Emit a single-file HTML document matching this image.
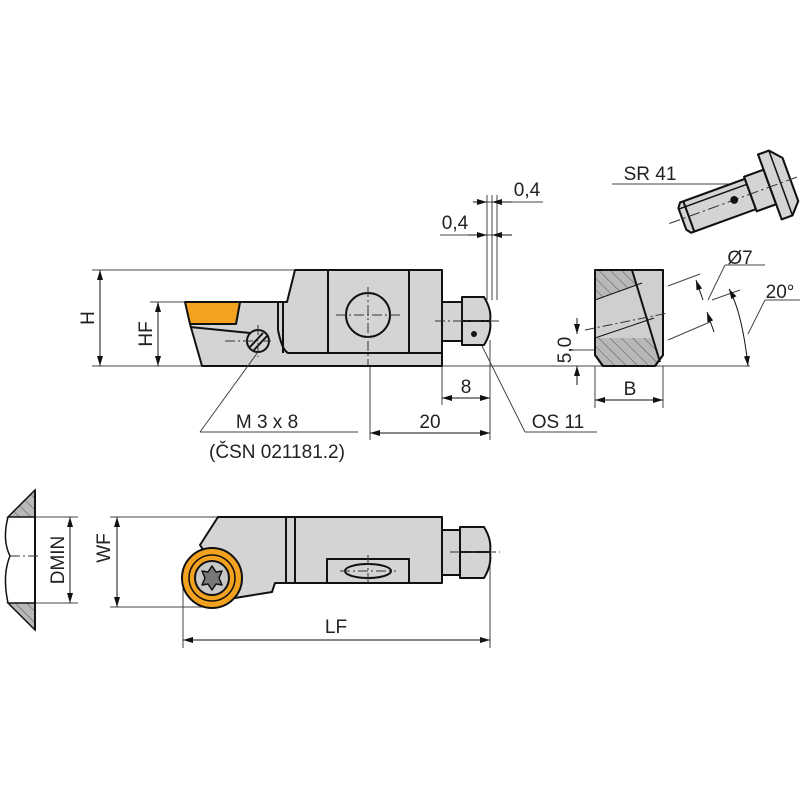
<!DOCTYPE html>
<html><head><style>body{margin:0;background:#fff}svg{display:block}text{font-family:"Liberation Sans",sans-serif;font-size:19px;fill:#222}</style></head>
<body>
<svg width="800" height="800" viewBox="0 0 800 800" xmlns="http://www.w3.org/2000/svg">
<defs>
<marker id="a" viewBox="0 0 10 6" refX="10" refY="3" markerWidth="10" markerHeight="6" orient="auto-start-reverse" markerUnits="userSpaceOnUse"><path d="M0,0L10,3L0,6z" fill="#111"/></marker>
<pattern id="h" width="8" height="8" patternUnits="userSpaceOnUse" patternTransform="rotate(-45)"><rect width="8" height="8" fill="#b8b8b8"/><line x1="0" y1="0" x2="0" y2="8" stroke="#555" stroke-width="1"/></pattern>
</defs>
<g stroke="#444" stroke-width="1" fill="none">
<line x1="92" y1="270" x2="295" y2="270"/><line x1="92" y1="366" x2="750" y2="366"/>
<line x1="150" y1="302" x2="185" y2="302"/>
<line x1="370" y1="340" x2="370" y2="440"/><line x1="442" y1="366" x2="442" y2="405"/><line x1="490" y1="340" x2="490" y2="440"/>
<line x1="487" y1="195" x2="487" y2="300"/><line x1="492" y1="195" x2="492" y2="300"/><line x1="497" y1="195" x2="497" y2="300"/>
<line x1="473" y1="202" x2="543" y2="202"/><line x1="440" y1="235" x2="512" y2="235"/>
<line x1="200" y1="432" x2="358" y2="432"/>
<line x1="478" y1="338" x2="525" y2="432"/><line x1="525" y1="432" x2="597" y2="432"/>
<line x1="110" y1="517" x2="218" y2="517"/><line x1="110" y1="607" x2="210" y2="607"/>
<line x1="35" y1="517" x2="78" y2="517"/><line x1="35" y1="603" x2="78" y2="603"/>
<line x1="183" y1="580" x2="183" y2="648"/><line x1="490" y1="560" x2="490" y2="648"/>
<line x1="595" y1="366" x2="595" y2="408"/><line x1="663" y1="366" x2="663" y2="408"/>
<line x1="570" y1="350" x2="600" y2="350"/>
<line x1="668" y1="286" x2="700" y2="274"/><line x1="668" y1="340" x2="710" y2="322"/>
<line x1="712" y1="300" x2="740" y2="290"/><line x1="708" y1="300" x2="725" y2="265"/><line x1="725" y1="265" x2="765" y2="265"/>
<line x1="748" y1="334" x2="765" y2="300"/><line x1="765" y1="300" x2="800" y2="300"/>
<line x1="612" y1="184" x2="735" y2="184"/><line x1="735" y1="184" x2="738" y2="197"/>
</g>
<g stroke="#111" stroke-width="1" fill="none">
<line x1="100" y1="270" x2="100" y2="366" marker-start="url(#a)" marker-end="url(#a)"/>
<line x1="158" y1="302" x2="158" y2="366" marker-start="url(#a)" marker-end="url(#a)"/>
<line x1="442" y1="398" x2="490" y2="398" marker-start="url(#a)" marker-end="url(#a)"/>
<line x1="370" y1="433" x2="490" y2="433" marker-start="url(#a)" marker-end="url(#a)"/>
<line x1="473" y1="202" x2="487" y2="202" marker-end="url(#a)"/><line x1="512" y1="202" x2="492" y2="202" marker-end="url(#a)"/>
<line x1="468" y1="235" x2="487" y2="235" marker-end="url(#a)"/><line x1="512" y1="235" x2="492" y2="235" marker-end="url(#a)"/>
<line x1="117" y1="517" x2="117" y2="607" marker-start="url(#a)" marker-end="url(#a)"/>
<line x1="70" y1="517" x2="70" y2="603" marker-start="url(#a)" marker-end="url(#a)"/>
<line x1="183" y1="640" x2="490" y2="640" marker-start="url(#a)" marker-end="url(#a)"/>
<line x1="595" y1="400" x2="663" y2="400" marker-start="url(#a)" marker-end="url(#a)"/>
<line x1="577" y1="318" x2="577" y2="334" marker-end="url(#a)"/><line x1="577" y1="385" x2="577" y2="366" marker-end="url(#a)"/>
<line x1="696" y1="280" x2="703" y2="300" marker-start="url(#a)"/><line x1="707" y1="312" x2="714" y2="332" marker-start="url(#a)"/>
<path d="M729,289 Q742,312 748,366" marker-start="url(#a)" marker-end="url(#a)"/>
</g>
<!-- top view -->
<g stroke="#111" stroke-width="2" stroke-linejoin="round">
<path d="M190,324 L236,324 L240,302 L287,302 L295,270 L442,270 L442,366 L202,366 Z" fill="#d4d4d4"/>
<path d="M185,302 L240,302 L236,324 L190,324 Z" fill="#f2a21e"/>
<line x1="190" y1="327" x2="250" y2="333"/>
<line x1="278" y1="302" x2="278" y2="330"/>
<line x1="283" y1="302" x2="283" y2="353"/><line x1="328" y1="270" x2="328" y2="353"/><line x1="409" y1="270" x2="409" y2="353"/>
<path d="M278,330 Q282,350 288,353 L442,353" fill="none"/>
<circle cx="368" cy="315" r="22" fill="none"/>
<circle cx="258" cy="341" r="11" fill="#d4d4d4"/>
<line x1="250" y1="347" x2="263" y2="333"/><line x1="254" y1="350" x2="267" y2="336"/>
<rect x="442" y="302" width="20" height="39" fill="#d4d4d4"/>
<path d="M462,297 L484,297 Q492,310 490,321 Q492,332 484,345 L462,345 Z" fill="#d4d4d4"/>
<line x1="462" y1="321" x2="490" y2="321"/>
</g>
<line x1="258" y1="352" x2="200" y2="432" stroke="#444" stroke-width="1"/>
<g stroke="#333" stroke-width="1" stroke-dasharray="10,3,2,3"><line x1="336" y1="315" x2="400" y2="315"/><line x1="368" y1="287" x2="368" y2="366"/><line x1="435" y1="321" x2="500" y2="321"/><line x1="258" y1="325" x2="258" y2="357"/><line x1="225" y1="341" x2="272" y2="341"/></g>
<circle cx="474" cy="334" r="3" fill="#111"/>
<!-- bottom view -->
<g stroke="#111" stroke-width="2" stroke-linejoin="round">
<path d="M218,517 L442,517 L442,583 L275,583 L272,592 L235,598 L200,545 Z" fill="#d4d4d4"/>
<line x1="286" y1="517" x2="286" y2="583"/><line x1="295" y1="517" x2="295" y2="583"/>
<rect x="327" y="559" width="82" height="24" fill="#d4d4d4"/>
<ellipse cx="368" cy="571" rx="23" ry="7" fill="none"/>
<rect x="442" y="530" width="18" height="45" fill="#d4d4d4"/>
<path d="M460,527 L484,527 Q492,540 490,552 Q492,565 484,578 L460,578 Z" fill="#d4d4d4"/>
<line x1="460" y1="552" x2="490" y2="552"/>
<circle cx="212" cy="578" r="30" fill="#f2a21e"/>
<circle cx="212" cy="578" r="23" fill="none" stroke-width="1.5"/>
<circle cx="212" cy="578" r="17" fill="#c8c8c8"/>
<path d="M212,566 L216,572 L222,571 L219,578 L222,585 L216,584 L212,590 L208,584 L202,585 L205,578 L202,571 L208,572 Z" fill="#777" stroke-width="1.5"/>
</g>
<g stroke="#333" stroke-width="1" stroke-dasharray="10,3,2,3"><line x1="340" y1="571" x2="396" y2="571"/><line x1="368" y1="555" x2="368" y2="583"/><line x1="450" y1="552" x2="500" y2="552"/></g>
<!-- profile left -->
<path d="M35,490 L8,517 L35,517 Z" fill="url(#h)" stroke="#111" stroke-width="1.5"/>
<path d="M8,603 L35,603 L35,630 Z" fill="url(#h)" stroke="#111" stroke-width="1.5"/>
<line x1="35" y1="490" x2="35" y2="630" stroke="#111" stroke-width="2"/>
<path d="M8,517 Q2,540 10,556 Q2,575 8,603" fill="none" stroke="#111" stroke-width="1.5"/>
<line x1="10" y1="556" x2="40" y2="556" stroke="#333" stroke-dasharray="10,3,2,3"/>
<!-- right block -->
<g stroke="#111" stroke-width="2" stroke-linejoin="round">
<path d="M595,270 L663,270 L663,355 L655,366 L603,366 L595,355 Z" fill="url(#h)"/>
<path d="M595,300 L642,283 L654,338 L595,338 Z" fill="#cfcfcf" stroke="none"/>
<path d="M632,270 L663,270 L663,355 L660,362 Z" fill="#cfcfcf" stroke="none"/>
<line x1="632" y1="270" x2="660" y2="362"/>
<path d="M595,270 L663,270 L663,355 L655,366 L603,366 L595,355 Z" fill="none"/>
<line x1="595" y1="300" x2="642" y2="283" stroke-width="1"/>
<line x1="595" y1="338" x2="654" y2="318" stroke-width="1"/>
</g>
<line x1="585" y1="330" x2="668" y2="313" stroke="#333" stroke-dasharray="10,3,2,3"/>
<!-- SR41 screw -->
<g transform="translate(745,196) rotate(-20) scale(1.15)" stroke="#111" stroke-width="1.8" stroke-linejoin="round">
<path d="M-55,-14 L5,-14 L5,14 L-55,14 L-58,10 L-58,-10 Z" fill="#d4d4d4"/>
<line x1="-52" y1="-14" x2="-52" y2="14"/><line x1="-58" y1="-9" x2="5" y2="-9" stroke-width="1.3"/>
<rect x="5" y="-16" width="18" height="32" fill="#d4d4d4"/>
<path d="M23,-30 L33,-30 L42,-20 L42,20 L33,30 L23,30 Z" fill="#d4d4d4"/>
<line x1="33" y1="-30" x2="33" y2="30" stroke-width="1.3"/>
<line x1="-70" y1="0" x2="50" y2="0" stroke="#333" stroke-width="0.9" stroke-dasharray="10,3,2,3"/>
<circle cx="-10" cy="0" r="2.5" fill="#111"/>
</g>
<!-- text -->
<text transform="translate(94,318) rotate(-90)" text-anchor="middle">H</text>
<text transform="translate(152,334) rotate(-90)" text-anchor="middle">HF</text>
<text x="466" y="393" text-anchor="middle">8</text>
<text x="430" y="428" text-anchor="middle">20</text>
<text x="527" y="196" text-anchor="middle">0,4</text>
<text x="455" y="229" text-anchor="middle">0,4</text>
<text x="558" y="428" text-anchor="middle">OS 11</text>
<text x="267" y="428" text-anchor="middle">M 3 x 8</text>
<text x="277" y="458" text-anchor="middle">(ČSN 021181.2)</text>
<text x="650" y="180" text-anchor="middle">SR 41</text>
<text x="740" y="264" text-anchor="middle">Ø7</text>
<text x="780" y="298" text-anchor="middle">20°</text>
<text transform="translate(571,350) rotate(-90)" text-anchor="middle">5,0</text>
<text x="630" y="395" text-anchor="middle">B</text>
<text transform="translate(64,560) rotate(-90)" text-anchor="middle">DMIN</text>
<text transform="translate(110,548) rotate(-90)" text-anchor="middle">WF</text>
<text x="336" y="633" text-anchor="middle">LF</text>
</svg>
</body></html>
